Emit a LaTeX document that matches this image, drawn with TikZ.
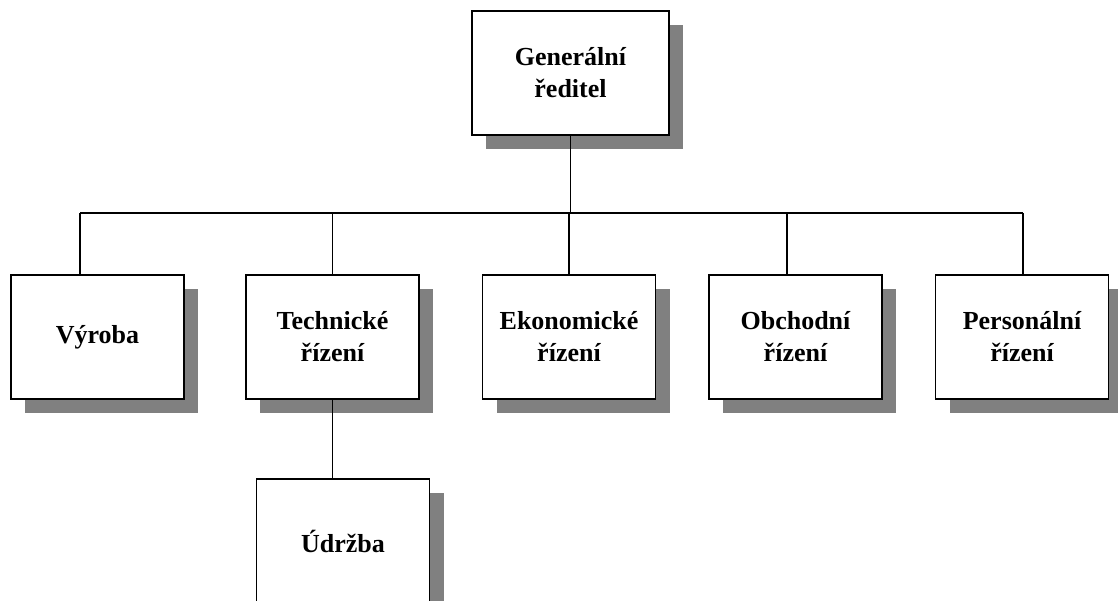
\documentclass[tikz,border=0pt]{standalone}
\usepackage{fontspec}
\setmainfont{Liberation Serif}
\usetikzlibrary{positioning}
\usetikzlibrary{shadows}
\definecolor{mgray}{rgb}{0.5, 0.5, 0.5}
\tikzset{box/.style = {draw, line width=1.6pt, fill=white,
                       minimum width=173pt, minimum height=124pt,
                       align=center, inner sep=0pt,
                       font=\bfseries\fontsize{26}{32}\selectfont,
                       drop shadow={shadow xshift=14pt, shadow yshift=-14pt,
                                    fill=mgray, opacity=1}},
         link/.style = {line width=1.5pt}}
\begin{document}
\begin{tikzpicture}[x=1pt, y=1pt]
    \useasboundingbox (0, 0) rectangle (1118, 601);
    \node [box, minimum width=197pt] (gen) at (570.5, 528) {Generální\\ředitel};
    \node [box] (vyroba) at (97.5, 264) {Výroba};
    \node [box] (tech) at (332.5, 264) {Technické\\řízení};
    \node [box] (ekon) at (569, 264) {Ekonomické\\řízení};
    \node [box] (obch) at (795.5, 264) {Obchodní\\řízení};
    \node [box] (pers) at (1022, 264) {Personální\\řízení};
    \node [box] (udrzba) at (343, 60) {Údržba};

    \coordinate (busL) at (80, 388);
    \coordinate (busR) at (1023, 388);
    \coordinate (busO) at (787, 388);
    \draw [link] (gen.south) -- (gen.south |- busL);
    \draw [link] (busL) -- (busR);
    \draw [link] (busL) -- (busL |- vyroba.north);
    \draw [link] (tech.north |- busL) -- (tech.north);
    \draw [link] (ekon.north |- busL) -- (ekon.north);
    \draw [link] (busO) -- (busO |- obch.north);
    \draw [link] (busR) -- (busR |- pers.north);
    \draw [link] (tech.south) -- (tech.south |- udrzba.north); % down to Údržba
\end{tikzpicture}
\end{document}
